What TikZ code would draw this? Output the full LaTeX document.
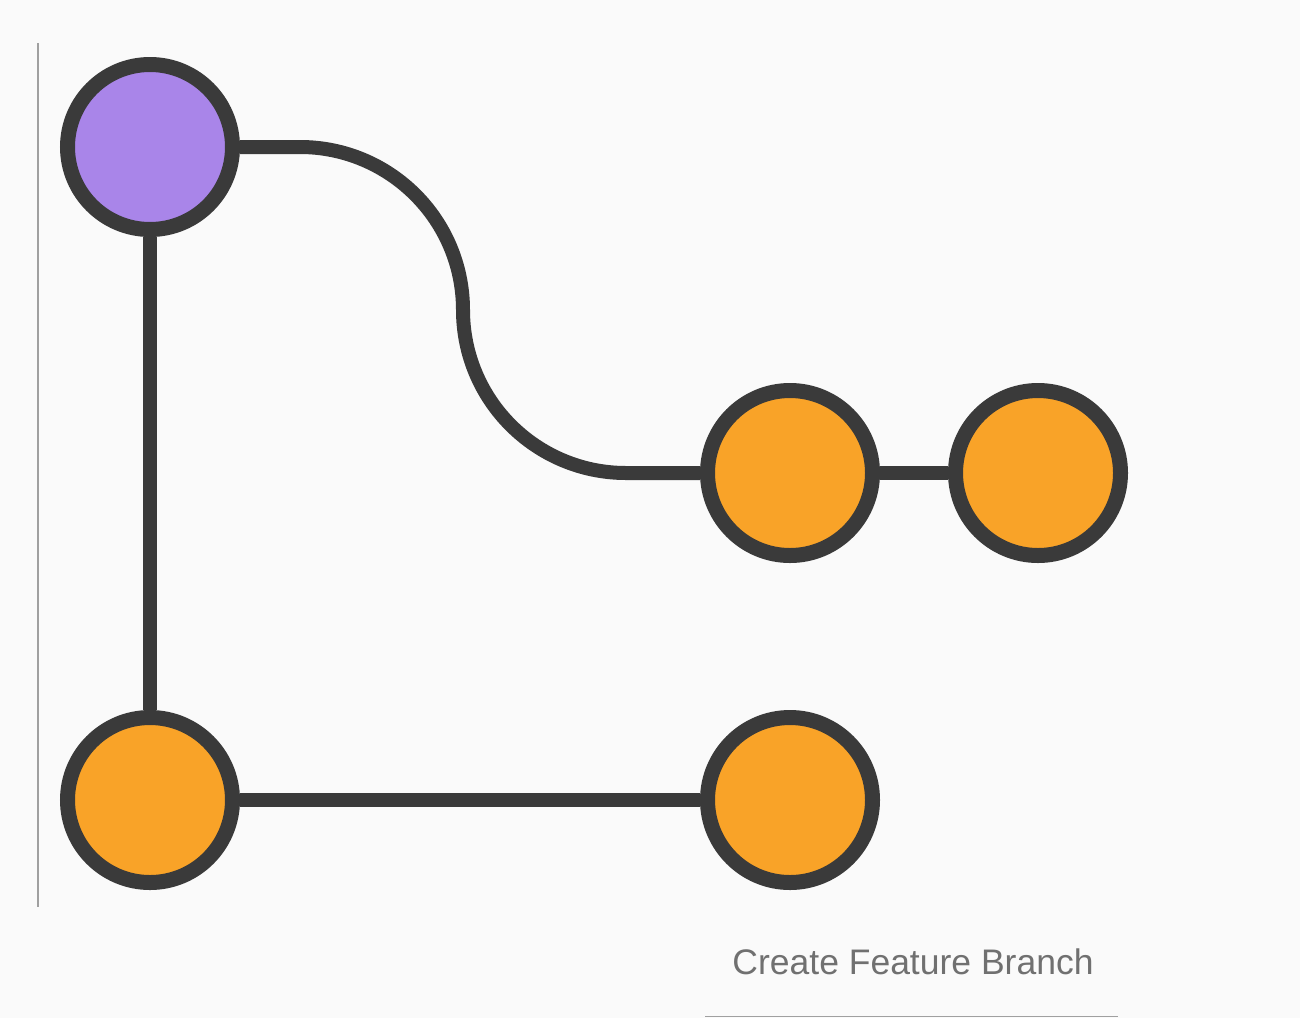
\documentclass[tikz,border=0pt]{standalone}
\usepackage{fontspec}
\setmainfont{Liberation Sans}
\definecolor{bgc}{HTML}{FAFAFA}
\definecolor{ink}{HTML}{3A3A3A}
\definecolor{purp}{HTML}{A985E9}
\definecolor{oran}{HTML}{F9A328}
\definecolor{txt}{HTML}{707070}
\definecolor{rule}{HTML}{A0A0A0}
\begin{document}
\begin{tikzpicture}[x=1pt,y=-1pt,
  commit/.style={circle,draw=ink,line width=15pt,minimum size=165pt,inner sep=0pt},
  link/.style={draw=ink,line width=14pt},
  thin/.style={draw=rule,line width=1.2pt}]
\fill[bgc] (0,0) rectangle (1300,1018);
\useasboundingbox (0,0) rectangle (1300,1018);
\node[commit,fill=purp] (p) at (150,147) {};
\node[commit,fill=oran] (f1) at (790,473) {};
\node[commit,fill=oran] (f2) at (1038,473) {};
\node[commit,fill=oran] (m1) at (150,800) {};
\node[commit,fill=oran] (m2) at (790,800) {};
\path[link] (p) -- (m1);
\path[link] (m1) -- (m2);
\path[link] (f1) -- (f2);
\path[link] (p.east) -- (300,147) arc[start angle=-90,end angle=0,radius=163]
  arc[start angle=180,end angle=90,radius=163] -- (f1.west);
\node[text=txt,font=\fontsize{35.5}{42}\selectfont] (lbl) at (913,962) {Create Feature Branch};
\coordinate (va) at (38,43);
\coordinate (vb) at (38,907);
\path[thin] (va) -- (vb);
\coordinate (ha) at (705,1016.5);
\coordinate (hb) at (1118,1016.5);
\path[thin] (ha) -- (hb);
\end{tikzpicture}
\end{document}
